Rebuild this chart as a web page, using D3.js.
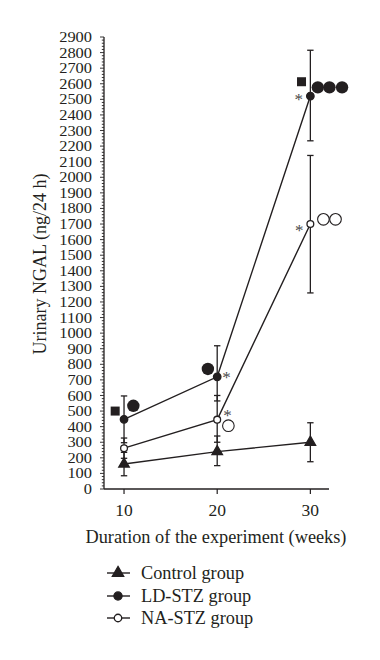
<!DOCTYPE html>
<html><head><meta charset="utf-8">
<script src="https://cdn.jsdelivr.net/npm/d3@7"></script>
<style>body{margin:0;background:#fff}svg{display:block}text{font-family:"Liberation Serif","DejaVu Serif",serif;fill:#231f20}</style>
</head><body><svg id="c" width="380" height="660"></svg>
<script>
// ---- data ----
const weeks = [10, 20, 30];
const controlMean = [160, 240, 300];
const controlUp   = [235, 340, 425];
const controlLow  = [85, 150, 175];
const ldMean = [447, 720, 2521];
const ldUp   = [597, 919, 2815];
const ldLow  = [297, 565, 2234];
const naMean = [262, 445, 1700];
const naUp   = [327, 600, 2140];
const naLow  = [197, 300, 1258];
const yTicks = d3.range(0, 2901, 100);
const xTicks = [10, 20, 30];
const seriesNames = ["Control group", "LD-STZ group", "NA-STZ group"];
// significance annotations [week, value]
const squares = [[9.05, 500], [29.05, 2613]];
const bigFilled = [[11.0, 534], [19.0, 770], [30.8, 2577], [32.05, 2577], [33.4, 2577]];
const bigOpen = [[21.2, 406], [31.4, 1730], [32.7, 1730]];
const stars = [[21.0, 748], [21.1, 500], [28.75, 2530], [28.8, 1690]];

const svg = d3.select("#c");
const x = d3.scaleLinear().domain([7.85, 32]).range([104, 329]);
const y = d3.scaleLinear().domain([0, 2900]).range([489, 37]);

// y axis
const yAxis = svg.append("g").attr("transform", "translate(104,0)");
yAxis.append("line").attr("x1",0).attr("x2",0).attr("y1",y(0)).attr("y2",y(2900)).attr("stroke","#231f20").attr("stroke-width",1.3);
yAxis.selectAll(".minor").data(d3.range(0, 2901, 20)).join("line")
  .attr("x1", d => d % 100 === 0 ? -4 : -2.2).attr("x2", 0)
  .attr("y1", d => y(d)).attr("y2", d => y(d)).attr("stroke","#231f20").attr("stroke-width",0.9);
yAxis.selectAll(".lab").data(yTicks).join("text")
  .attr("x", -12).attr("y", d => y(d)).attr("dy","0.36em").attr("text-anchor","end")
  .attr("font-size", 14).attr("textLength", d => String(d).length * 8.2).attr("lengthAdjust","spacingAndGlyphs")
  .text(d => d);

// x axis
const xAxis = svg.append("g");
xAxis.append("line").attr("x1",104).attr("x2",329).attr("y1",489).attr("y2",489).attr("stroke","#231f20").attr("stroke-width",1.3);
xAxis.selectAll(".t").data(xTicks).join("line")
  .attr("x1", d=>x(d)).attr("x2", d=>x(d)).attr("y1",489).attr("y2",494).attr("stroke","#231f20").attr("stroke-width",1.2);
xAxis.selectAll(".l").data(xTicks).join("text")
  .attr("x", d=>x(d)).attr("y", 516).attr("text-anchor","middle").attr("font-size",17.5).text(d=>d);

svg.append("text").attr("x", 216).attr("y", 543).attr("text-anchor","middle").attr("font-size",18.3)
  .text("Duration of the experiment (weeks)");
svg.append("text").attr("transform","translate(40,264) rotate(-90)").attr("text-anchor","middle")
  .attr("dy","0.35em").attr("font-size",18).text("Urinary NGAL (ng/24 h)");

const series = [
  {mean: controlMean, up: controlUp, low: controlLow, sym: d3.symbolTriangle, size: 48, fill: "#231f20"},
  {mean: ldMean, up: ldUp, low: ldLow, sym: d3.symbolCircle, size: 44, fill: "#231f20"},
  {mean: naMean, up: naUp, low: naLow, sym: d3.symbolCircle, size: 36, fill: "#fff"}
];
const line = d3.line().x((d,i)=>x(weeks[i])).y(d=>y(d));
const g = svg.append("g");
series.forEach(s => {
  weeks.forEach((w,i) => {
    const cx = x(w);
    g.append("line").attr("x1",cx).attr("x2",cx).attr("y1",y(s.up[i])).attr("y2",y(s.low[i])).attr("stroke","#231f20").attr("stroke-width",1.3);
    [s.up[i], s.low[i]].forEach(v => g.append("line").attr("x1",cx-3.2).attr("x2",cx+3.2).attr("y1",y(v)).attr("y2",y(v)).attr("stroke","#231f20").attr("stroke-width",1.3));
  });
});
series.forEach(s => {
  g.append("path").attr("d", line(s.mean)).attr("fill","none").attr("stroke","#231f20").attr("stroke-width",1.4);
});
series.forEach(s => {
  g.selectAll(null).data(s.mean).join("path")
    .attr("transform",(d,i)=>`translate(${x(weeks[i])},${y(d)})`)
    .attr("d", d3.symbol().type(s.sym).size(s.size)).attr("fill", s.fill).attr("stroke","#231f20").attr("stroke-width",1.3);
});

// annotations
g.selectAll(".sq").data(squares).join("rect")
  .attr("x", d=>x(d[0])-4.5).attr("y", d=>y(d[1])-4.5).attr("width",9).attr("height",9).attr("fill","#231f20");
g.selectAll(".bf").data(bigFilled).join("circle")
  .attr("cx", d=>x(d[0])).attr("cy", d=>y(d[1])).attr("r",6.2).attr("fill","#231f20");
g.selectAll(".bo").data(bigOpen).join("circle")
  .attr("cx", d=>x(d[0])).attr("cy", d=>y(d[1])).attr("r",5.8).attr("fill","none").attr("stroke","#231f20").attr("stroke-width",1.1);
g.selectAll(".st").data(stars).join("text")
  .attr("x", d=>x(d[0])).attr("y", d=>y(d[1])).attr("dy","0.6em").attr("text-anchor","middle")
  .attr("font-size",17).style("fill","#4a4a4a").text("*");

// legend
const leg = svg.append("g");
const legY = [573, 596, 618];
series.forEach((s,i) => {
  leg.append("line").attr("x1",107).attr("x2",130).attr("y1",legY[i]).attr("y2",legY[i]).attr("stroke","#231f20").attr("stroke-width",1.4);
  leg.append("path").attr("transform",`translate(118,${legY[i]})`).attr("d", d3.symbol().type(s.sym).size(s.size+8)())
    .attr("fill", s.fill).attr("stroke","#231f20").attr("stroke-width",1.3);
  leg.append("text").attr("x",141).attr("y",legY[i]).attr("dy","0.35em").attr("font-size",18.3).text(seriesNames[i]);
});
</script></body></html>
